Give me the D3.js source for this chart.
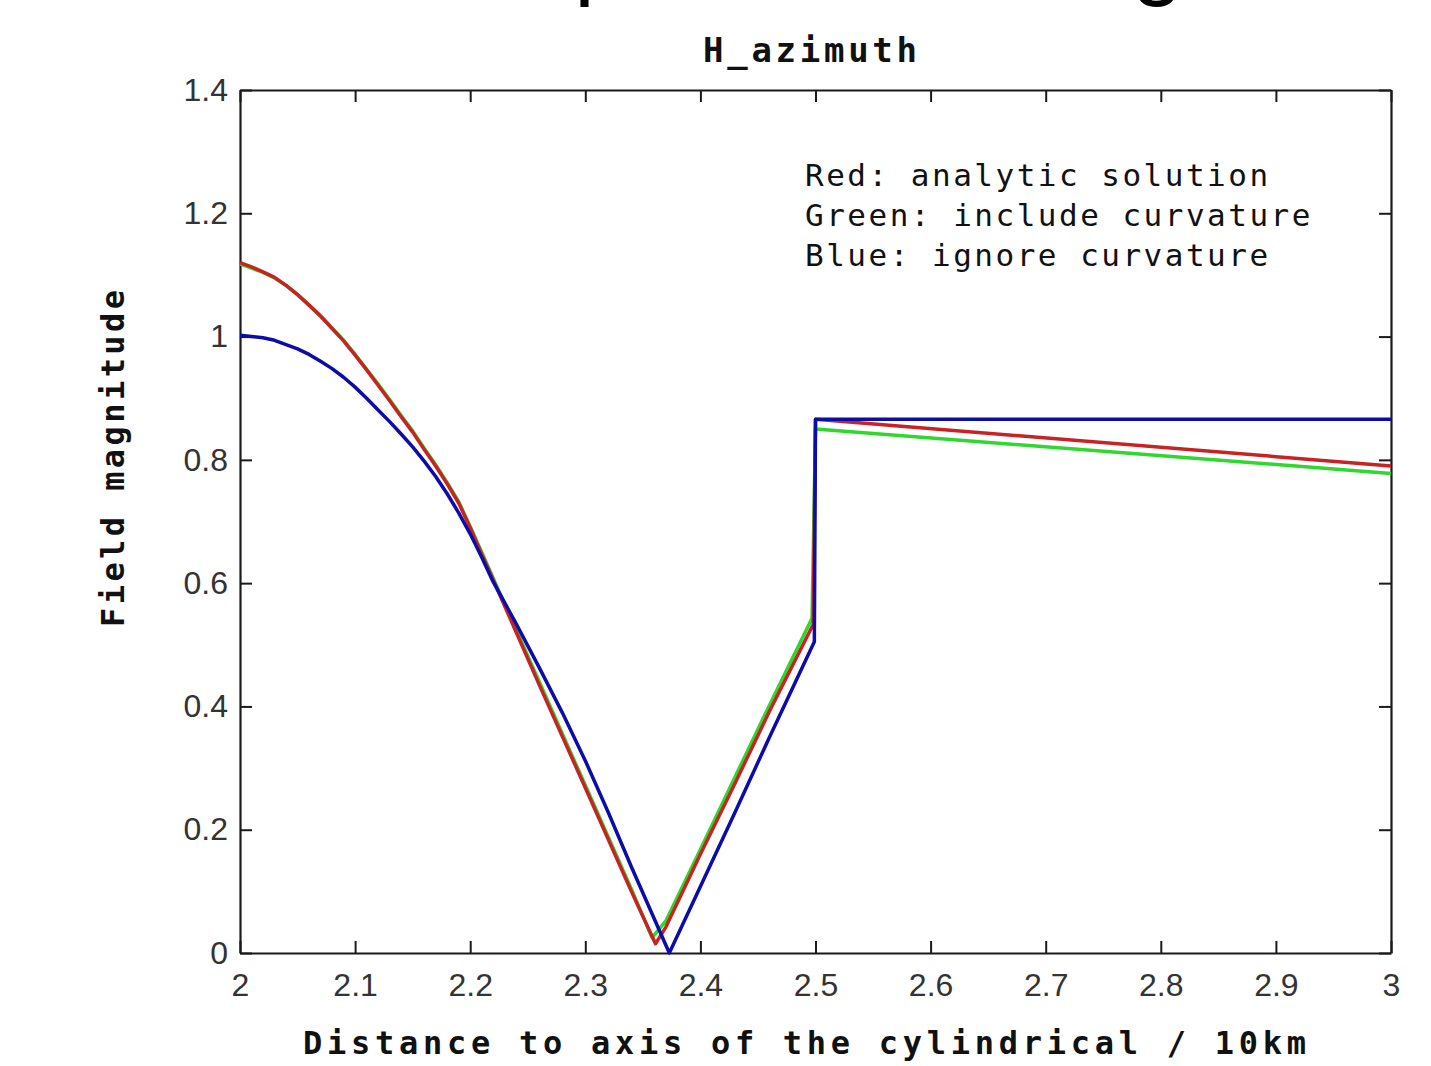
<!DOCTYPE html>
<html>
<head>
<meta charset="utf-8">
<title>H_azimuth</title>
<script src="https://cdn.jsdelivr.net/npm/d3@7"></script>
<style>
    body { margin: 0; background: #fff; }
    .tick text { font-family: "Liberation Sans", Arial, sans-serif; font-size: 32px; fill: #333; }
    .mono { font-family: "DejaVu Sans Mono", monospace; fill: #111; }
</style>
</head>
<body>
<div id="chart"></div>
<script>
// values (x = distance / 10km, y = field magnitude)
const xTicks = [2, 2.1, 2.2, 2.3, 2.4, 2.5, 2.6, 2.7, 2.8, 2.9, 3];
const xTickLabels = ["2", "2.1", "2.2", "2.3", "2.4", "2.5", "2.6", "2.7", "2.8", "2.9", "3"];
const yTicks = [0, 0.2, 0.4, 0.6, 0.8, 1, 1.2, 1.4];
const yTickLabels = ["0", "0.2", "0.4", "0.6", "0.8", "1", "1.2", "1.4"];

// Red: analytic solution
const redX = [2.00, 2.01, 2.02, 2.03, 2.04, 2.05, 2.06, 2.07, 2.08, 2.09, 2.10, 2.11, 2.12, 2.13, 2.14, 2.15, 2.16, 2.17, 2.18, 2.19, 2.20, 2.21, 2.22,
              2.26, 2.30, 2.34, 2.361, 2.37, 2.40, 2.43, 2.46, 2.498, 2.5, 3.0];
const redY = [1.120, 1.113, 1.105, 1.096, 1.083, 1.068, 1.051, 1.033, 1.013, 0.993, 0.970, 0.946, 0.921, 0.896, 0.870, 0.845, 0.817, 0.790, 0.761, 0.730, 0.690, 0.647, 0.605,
              0.435, 0.268, 0.100, 0.015, 0.042, 0.160, 0.275, 0.392, 0.533, 0.866, 0.790];

// Green: include curvature
const greenX = [2.00, 2.01, 2.02, 2.03, 2.04, 2.05, 2.06, 2.07, 2.08, 2.09, 2.10, 2.11, 2.12, 2.13, 2.14, 2.15, 2.16, 2.17, 2.18, 2.19, 2.20, 2.21, 2.22,
                2.26, 2.30, 2.34, 2.358, 2.37, 2.40, 2.43, 2.46, 2.497, 2.5, 3.0];
const greenY = [1.118, 1.111, 1.104, 1.095, 1.083, 1.068, 1.051, 1.034, 1.014, 0.994, 0.971, 0.947, 0.923, 0.898, 0.872, 0.847, 0.819, 0.792, 0.763, 0.732, 0.692, 0.650, 0.608,
                0.440, 0.272, 0.104, 0.025, 0.052, 0.168, 0.285, 0.402, 0.543, 0.850, 0.778];

// Blue: ignore curvature
const blueX = [2.00, 2.01, 2.02, 2.03, 2.04, 2.05, 2.06, 2.07, 2.08, 2.09, 2.10, 2.11, 2.12, 2.13, 2.14, 2.15, 2.16, 2.17, 2.18, 2.19, 2.20, 2.21, 2.22,
               2.24, 2.26, 2.28, 2.30, 2.32, 2.34, 2.373, 2.40, 2.43, 2.46, 2.499, 2.5, 3.0];
const blueY = [1.002, 1.000, 0.998, 0.994, 0.987, 0.980, 0.971, 0.960, 0.948, 0.934, 0.918, 0.900, 0.881, 0.862, 0.842, 0.821, 0.798, 0.773, 0.745, 0.714, 0.680, 0.642, 0.602,
               0.534, 0.463, 0.390, 0.312, 0.228, 0.140, 0.000, 0.108, 0.228, 0.350, 0.505, 0.866, 0.866];

const legendLines = ["Red: analytic solution", "Green: include curvature", "Blue: ignore curvature"];

const width = 1431, height = 1066;
const margin = {left: 240, right: 40, top: 90, bottom: 113};

let svg = d3.select("#chart")
    .append("svg")
    .attr("width", width)
    .attr("height", height);

// heading of the page above, cut off by the crop (only descenders show)
svg.append("text")
    .attr("x", 380)
    .attr("y", -12)
    .style("font-family", "Liberation Sans, Arial, sans-serif")
    .style("font-size", "92px")
    .attr("fill", "#000")
    .text("Comparison of magnitude");

let x = d3.scaleLinear().domain([2, 3]).range([margin.left, width - margin.right]);
let y = d3.scaleLinear().domain([0, 1.4]).range([height - margin.bottom, margin.top]);

// axes, ticks pointing inward like matlab
let xAxis = d3.axisBottom(x).tickValues(xTicks)
    .tickFormat((d, i) => xTickLabels[i])
    .tickSizeInner(-12).tickSizeOuter(0).tickPadding(20);
let yAxis = d3.axisLeft(y).tickValues(yTicks)
    .tickFormat((d, i) => yTickLabels[i])
    .tickSizeInner(-12).tickSizeOuter(0).tickPadding(12);

svg.append("g")
    .attr("transform", `translate(0,${y(0)})`)
    .call(xAxis);
svg.append("g")
    .attr("transform", `translate(${x(2)},0)`)
    .call(yAxis);
svg.append("g")
    .attr("transform", `translate(0,${y(1.4)})`)
    .call(d3.axisTop(x).tickValues(xTicks).tickFormat("").tickSizeInner(-12).tickSizeOuter(0));
svg.append("g")
    .attr("transform", `translate(${x(3)},0)`)
    .call(d3.axisRight(y).tickValues(yTicks).tickFormat("").tickSizeInner(-12).tickSizeOuter(0));

svg.selectAll(".domain").attr("stroke", "#1a1a1a").attr("stroke-width", 2.2);
svg.selectAll(".tick line").attr("stroke", "#1a1a1a").attr("stroke-width", 2);

// curves - green first, red over it, blue on top
let line = d3.line().x(d => x(d[0])).y(d => y(d[1]));
let series = [
    {xs: greenX, ys: greenY, color: "#2ed82e"},
    {xs: redX, ys: redY, color: "#c92222"},
    {xs: blueX, ys: blueY, color: "#0c0ca8"}
];
series.forEach(s => {
    svg.append("path")
        .datum(s.xs.map((v, i) => [v, s.ys[i]]))
        .attr("fill", "none")
        .attr("stroke", s.color)
        .attr("stroke-width", 3.5)
        .attr("stroke-linejoin", "round")
        .attr("d", line);
});

// title
svg.append("text")
    .attr("class", "mono")
    .attr("x", 810)
    .attr("y", 62)
    .attr("text-anchor", "middle")
    .attr("textLength", 214)
    .attr("lengthAdjust", "spacing")
    .style("font-size", "34px")
    .style("font-weight", "bold")
    .text("H_azimuth");

// axis labels
svg.append("text")
    .attr("class", "mono")
    .attr("x", 303)
    .attr("y", 1054)
    .attr("textLength", 1003)
    .attr("lengthAdjust", "spacing")
    .style("font-size", "32px")
    .style("font-weight", "bold")
    .text("Distance to axis of the cylindrical / 10km");

svg.append("text")
    .attr("class", "mono")
    .attr("transform", "translate(124,627) rotate(-90)")
    .attr("textLength", 337)
    .attr("lengthAdjust", "spacing")
    .style("font-size", "32px")
    .style("font-weight", "bold")
    .text("Field magnitude");

// legend text block
svg.selectAll(".legend")
    .data(legendLines)
    .join("text")
    .attr("class", "mono legend")
    .attr("x", 805)
    .attr("y", (d, i) => 186 + i * 40)
    .style("font-size", "31px")
    .style("letter-spacing", "2.5px")
    .text(d => d);
</script>
</body>
</html>
